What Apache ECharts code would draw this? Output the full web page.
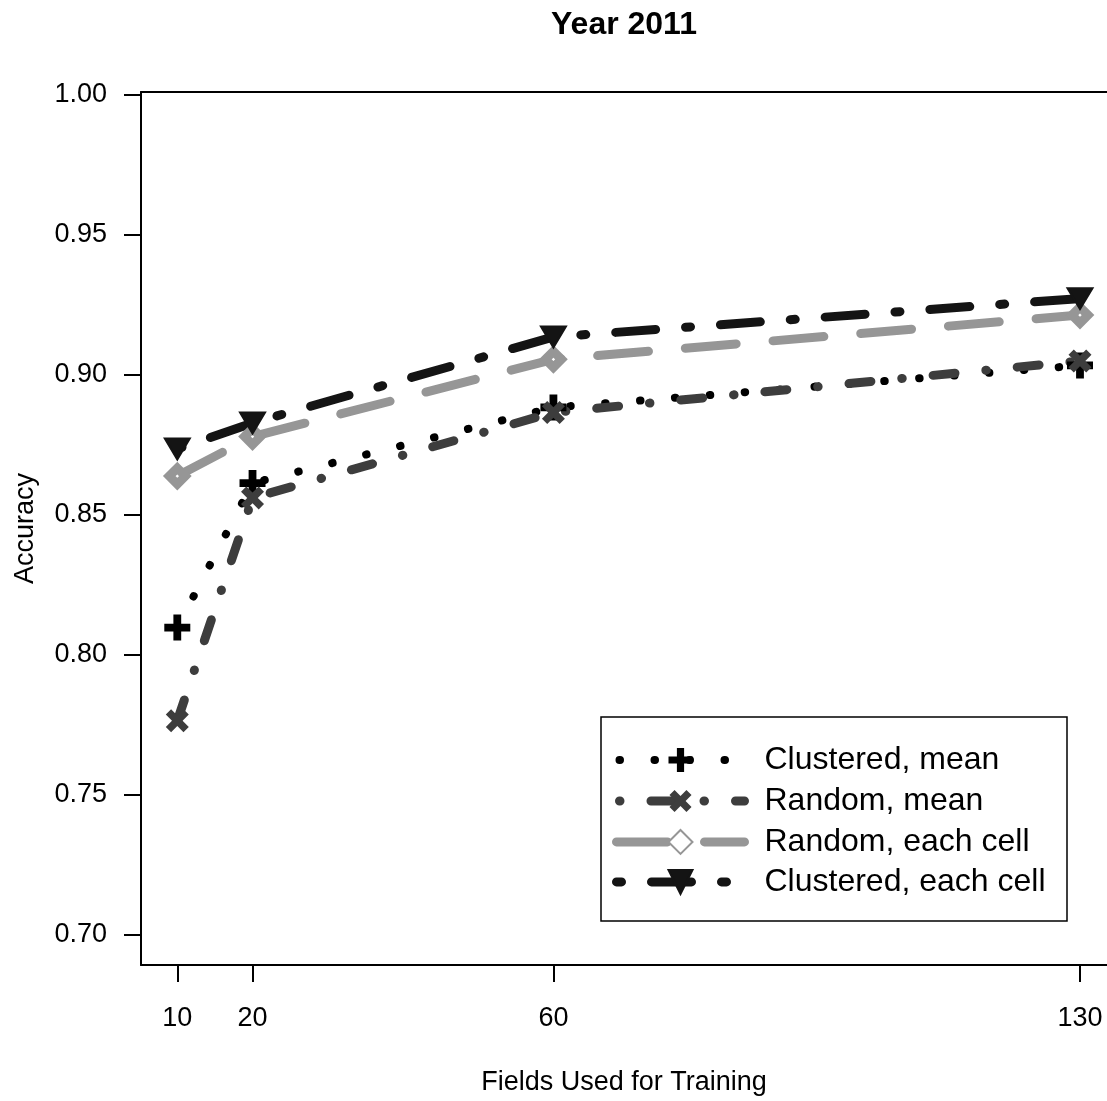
<!DOCTYPE html>
<html>
<head>
<meta charset="utf-8">
<script src="https://cdn.jsdelivr.net/npm/echarts@6/dist/echarts.min.js"></script>
<style>html,body{margin:0;padding:0;background:#fff;}#c{width:1107px;height:1101px;}</style>
</head>
<body>
<div id="c"></div>
<script>
var xValues = [10, 20, 60, 130];
var clusteredMean = [0.8098, 0.8614, 0.8884, 0.9034];
var randomMean = [0.7765, 0.8561, 0.8866, 0.9050];
var randomEach = [0.8639, 0.8780, 0.9056, 0.9214];
var clusteredEach = [0.8736, 0.8829, 0.9136, 0.9273];
var xTicks = [10, 20, 60, 130];
var yTicks = [0.70, 0.75, 0.80, 0.85, 0.90, 0.95, 1.00];
var seriesNames = ['Clustered, mean', 'Random, mean', 'Random, each cell', 'Clustered, each cell'];

function pairs(v){ return xValues.map(function(x,i){ return [x, v[i]]; }); }

var FONT = 'Liberation Sans, Arial, sans-serif';
var plusPath = 'path://M3.5,0h3v3.5h3.5v3h-3.5v3.5h-3v-3.5h-3.5v-3h3.5z';
var triPath = 'path://M0,0L10,0L5,8.5Z';

var styles = [
  {color: '#000000', width: 8, dash: [0.5, 34.5], legendOffset: 32},
  {color: '#3d3d3d', width: 9, dash: [22, 31, 0.5, 31], legendOffset: 50},
  {color: '#969696', width: 9, dash: [51, 37], legendOffset: 0},
  {color: '#141414', width: 9, dash: [5, 30, 40, 30], legendOffset: 0}
];

var chart = echarts.init(document.getElementById('c'), null, {renderer:'canvas'});
chart.setOption({
  animation: false,
  backgroundColor: '#fff',
  title: {
    text: 'Year 2011', left: 551, top: 9, padding: 0,
    textStyle: {fontSize: 32, fontWeight: 'bold', fontFamily: FONT, color: '#000'}
  },
  grid: {left: 141, top: 92, right: 0, height: 873, show: false, containLabel: false},
  xAxis: [{
    type: 'value', min: 5.175, max: 133.59, position: 'bottom',
    name: 'Fields Used for Training', nameLocation: 'middle', nameGap: 104,
    nameTextStyle: {fontSize: 27, fontFamily: FONT, color: '#000'},
    axisLine: {show: true, onZero: false, lineStyle: {color: '#000', width: 2}},
    splitLine: {show: false},
    axisTick: {show: true, length: 17, lineStyle: {color: '#000', width: 2}, customValues: xTicks},
    axisLabel: {fontSize: 27, fontFamily: FONT, color: '#000', margin: 40, customValues: xTicks}
  }, {
    type: 'value', min: 5.175, max: 133.59, position: 'top',
    axisLine: {show: true, onZero: false, lineStyle: {color: '#000', width: 2}},
    splitLine: {show: false}, axisTick: {show: false}, axisLabel: {show: false}
  }],
  yAxis: {
    type: 'value', min: 0.68928, max: 1.00107,
    name: 'Accuracy', nameLocation: 'middle', nameGap: 102,
    nameTextStyle: {fontSize: 27, fontFamily: FONT, color: '#000'},
    axisLine: {show: true, onZero: false, lineStyle: {color: '#000', width: 2}},
    splitLine: {show: false},
    axisTick: {show: true, length: 17, lineStyle: {color: '#000', width: 2}, customValues: yTicks},
    axisLabel: {fontSize: 27, fontFamily: FONT, color: '#000', margin: 34, customValues: yTicks,
      formatter: function(v){ return v.toFixed(2); }}
  },
  legend: {
    orient: 'vertical', left: 607, top: 739, itemWidth: 128, itemHeight: 30, itemGap: 8,
    textStyle: {fontSize: 32, fontFamily: FONT, color: '#000', lineHeight: 32, padding: [0,0,0,15]},
    data: seriesNames.map(function(n, i){
      return {name: n, lineStyle: {width: styles[i].width, type: styles[i].dash, dashOffset: styles[i].legendOffset, cap: 'round', color: styles[i].color}};
    })
  },
  graphic: [{
    type: 'rect', shape: {x: 601, y: 717, width: 466, height: 204},
    style: {fill: 'none', stroke: '#000', lineWidth: 1.5}, z: 100
  }],
  series: [
    {
      name: seriesNames[0], type: 'line', data: pairs(clusteredMean),
      symbol: plusPath, symbolSize: 26,
      itemStyle: {color: styles[0].color},
      lineStyle: {color: styles[0].color, width: styles[0].width, type: styles[0].dash, cap: 'round'}
    },
    {
      name: seriesNames[1], type: 'line', data: pairs(randomMean),
      symbol: plusPath, symbolSize: 25, symbolRotate: 45,
      itemStyle: {color: styles[1].color},
      lineStyle: {color: styles[1].color, width: styles[1].width, type: styles[1].dash, cap: 'round'}
    },
    {
      name: seriesNames[2], type: 'line', data: pairs(randomEach),
      symbol: 'diamond', symbolSize: 16,
      itemStyle: {color: '#fff', borderColor: styles[2].color, borderWidth: 9},
      lineStyle: {color: styles[2].color, width: styles[2].width, type: styles[2].dash, cap: 'round'}
    },
    {
      name: seriesNames[3], type: 'line', data: pairs(clusteredEach),
      symbol: triPath, symbolSize: [25, 21],
      itemStyle: {color: styles[3].color, borderColor: styles[3].color, borderWidth: 2},
      lineStyle: {color: styles[3].color, width: styles[3].width, type: styles[3].dash, cap: 'round'}
    }
  ]
});
</script>
</body>
</html>
